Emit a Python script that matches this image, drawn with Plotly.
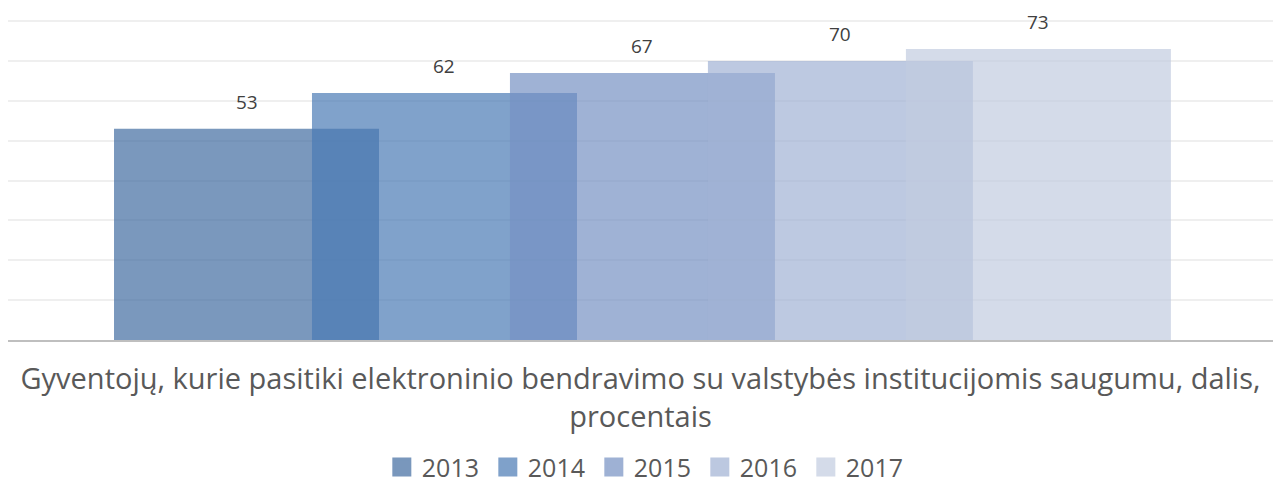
import plotly.graph_objects as go

# data
years = ["2013", "2014", "2015", "2016", "2017"]
values = [53, 62, 67, 70, 73]
category = ["Gyventojų, kurie pasitiki elektroninio bendravimo su valstybės institucijomis saugumu, dalis,<br>procentais"]
colors = ["#416ca1", "#4a7ab5", "#7691c3", "#a1b2d4", "#c2cce0"]

bar_width = 0.2095
step = 0.1565
first_offset = -0.4162

fig = go.Figure()
for i, (yr, val) in enumerate(zip(years, values)):
    off = first_offset + i * step
    fig.add_trace(go.Bar(
        x=category, y=[val], name=yr, showlegend=False,
        marker=dict(color=colors[i], line=dict(width=0)),
        opacity=0.7, width=bar_width, offset=off,
    ))
    # legend swatch
    fig.add_trace(go.Scatter(
        x=[None], y=[None], name=yr, mode="markers",
        marker=dict(symbol="square", size=16, color=colors[i],
                    line=dict(width=3, color=colors[i])),
        opacity=0.7,
    ))
    # data label above the bar
    fig.add_annotation(x=off + bar_width / 2, y=val, text=str(val),
                       showarrow=False, yanchor="bottom", yshift=12,
                       font=dict(size=19, color="#404040"))

# the page body has an 8px margin, so the figure is a little smaller
fig.update_layout(
    barmode="overlay",
    width=1265, height=477,
    margin=dict(l=0, r=0, t=12, b=145, autoexpand=False),
    plot_bgcolor="white", paper_bgcolor="white",
    font=dict(family="Open Sans", color="#595959"),
    showlegend=True,
    legend=dict(orientation="h", x=0.505, xanchor="center", y=-0.398, yanchor="middle",
                font=dict(size=25, color="#595959"), itemwidth=30,
                entrywidth=61, traceorder="normal"),
)
fig.update_xaxes(showline=True, linecolor="#bfbfbf", linewidth=2,
                 tickfont=dict(size=29, color="#595959"), ticks="",
                 ticklabelstandoff=12)
fig.update_yaxes(range=[0, 80.3], dtick=10, showticklabels=False,
                 showgrid=True, gridcolor="#efefef", gridwidth=1.5, zeroline=False)

fig.write_html("out.html")
